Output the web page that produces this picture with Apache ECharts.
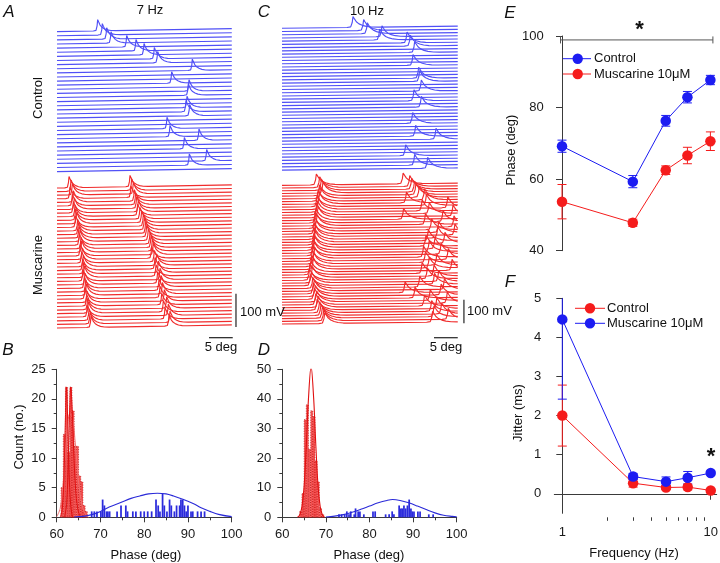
<!DOCTYPE html>
<html>
<head>
<meta charset="utf-8">
<script src="https://cdn.jsdelivr.net/npm/echarts@6.0.0/dist/echarts.min.js"></script>
<style>
html,body{margin:0;padding:0;background:#ffffff;}
#chart{width:720px;height:563px;}
</style>
</head>
<body>
<div id="chart"></div>
<script>
// ================= DATA =================
// A (7 Hz) Control: spike phase (deg) in each sweep, top sweep first ([] = no spike)
const ctrl7Spikes = [[68.56],[69.54],[70.46],[71.37],[74.67],[76.63],[78.32],[80.49],[81.19],[],
  [88.49],[],[],[84.14],[],[87.79],[87.65],[],[],[87.37],
  [87.16],[87.93],[],[],[83.16],[],[83.79],[89.89],[],[86.81],
  [],[],[91.51],[87.86],[]];
// A (7 Hz) Muscarine: first and second spike phase in each sweep
const musc7First = [62.53,62.95,63.23,62.74,63.44,63.23,63.65,63.44,63.79,63.93,
  64.14,63.93,64.35,64.49,64.63,64.84,64.70,65.05,65.19,64.91,
  65.33,65.19,65.54,65.40,65.61,65.75,65.47,65.89,65.75,66.04,
  66.18,65.89,66.32,66.25,66.46,66.60,66.39,66.74,66.95,67.16];
const musc7Second = [75.37,75.72,76.07,75.58,76.28,76.56,76.77,77.12,76.98,77.47,
  77.82,78.18,78.39,78.67,78.88,79.23,79.58,79.79,80.07,80.28,
  79.93,80.49,80.98,80.63,81.33,80.84,81.68,81.19,81.89,81.47,
  82.18,81.68,82.60,82.04,83.09,82.39,83.44,82.74,83.79,83.58];
// C (10 Hz) Control
const ctrl10Spikes = [[74.95],[77.19],[77.96],[81.05],[80.56],[86.32],[87.02],[],[87.93],[],
  [],[],[87.58],[],[],[],[88.77],[88.98],[],[],
  [89.33],[],[],[87.79],[],[89.33],[],[],[],[],
  [87.51],[],[],[],[88.14],[92.42],[],[],[],[],
  [86.04],[],[],[87.93],[90.67]];
// C (10 Hz) Muscarine
const musc10First = [67.23,67.93,68.28,68.63,67.9,68.1,67.6,67.9,67.4,67.7,67.5,
  67.3,67.6,67.2,67.0,67.4,66.9,67.2,66.8,67.1,66.9,
  67.0,66.7,66.9,66.6,66.8,66.5,66.9,66.4,66.7,66.3,
  66.6,66.1,65.9,66.4,65.8,66.2,66.0,66.5,66.8,66.6,
  67.0,66.8,67.3,67.1,67.6,67.4,67.9,68.2,68.5,68.8,69.0];
const musc10Second = [85.5,86.9,87.3,87.9,88.2,88.9,90.0,86.2,90.4,94.9,
  89.5,91.0,96.0,85.6,93.9,90.2,96.2,91.5,93.0,96.4,
  92.8,90.8,94.3,90.3,92.2,91.0,93.5,89.8,95.0,90.2,
  92.6,91.0,95.8,89.5,92.0,90.6,93.0,92.1,89.0,94.2,
  85.9,93.5,88.0,91.2,94.8,90.0,92.6,91.5,93.6,92.0,
  95.0,91.7];
// spike waveform: deg from peak, fraction of peak height
const spikeShapeDeg  = [-0.9,-0.35,-0.12,0,0.22,0.5,0.9,1.4,2.0,2.8,3.8];
const spikeShapeFrac = [0,0.05,0.45,1,0.78,0.52,0.32,0.18,0.08,0.02,0];

// B histograms: [bin start (deg), count]
const histB_ctrl = [[67.8,1],[68.4,1],[69.0,1],[69.9,1],[70.3,3],[70.7,2],[71.2,1],[71.5,1],[71.9,1],[73.6,1],
  [74.5,2],[75.6,2],[76.0,1],[77.2,1],[77.9,1],[79.0,1],[79.8,1],[80.6,1],[81.5,1],[82.5,3],
  [83.0,2],[83.4,1],[84.0,4],[84.4,2],[85.0,1],[85.6,3],[86.0,2],[86.7,1],[87.2,2],[87.9,2],
  [88.2,3],[88.6,3],[89.0,2],[89.4,1],[89.8,2],[90.5,1],[90.9,1],[92.0,1],[92.8,1],[93.6,1]];
const histB_musc = [[61.0,5],[61.5,14],[62.0,22],[62.5,11],[63.0,22],[63.5,18],[64.0,12],[64.5,12],[65.0,7],[65.5,6],[66.0,2],[66.5,1]];
const fitB_ctrl = [[64,0.05],[66,0.15],[68,0.45],[70,1.0],[72,1.75],[74.5,2.45],[77,3.2],[79,3.6],[81,3.95],[83,4.07],
  [85,3.95],[86.7,3.6],[89,3.0],[91.3,2.3],[93,1.6],[95,1.0],[97,0.5],[100,0.12]];
const fitB_musc1 = [[60.8,0],[61.3,1.5],[61.7,8],[62.0,17],[62.2,22],[62.45,18],[62.8,8],[63.2,2],[63.6,0]];
const fitB_musc2 = [[61.8,0],[62.3,2.5],[62.7,11],[63.0,19],[63.2,22],[63.5,19],[63.9,11],[64.4,4],[65.0,0.8],[65.6,0]];
const fitB_musc3 = [[60,0.1],[60.8,1.5],[61.5,6],[62.2,13],[63.0,17.5],[63.6,17],[64.3,12],[65.0,6],[65.8,2],[66.6,0.4],[67.3,0]];
// D histograms
const histD_ctrl = [[72.8,1],[73.4,1],[74.1,1],[74.6,2],[75.1,1],[75.5,2],[76.3,1],[76.6,3],[77.2,2],[77.6,2],
  [78.5,1],[80.6,2],[81.1,2],[83.5,1],[84.3,1],[85.0,2],[85.4,1],[86.6,4],[87.0,3],[87.3,3],
  [87.7,4],[88.1,3],[88.5,4],[88.9,6],[89.3,3],[89.6,2],[90.0,2],[90.9,2],[91.4,2],[93.4,1],[94.4,1]];
const histD_musc = [[64.0,2],[64.5,8],[65.0,33],[65.5,38],[66.0,23],[66.5,36],[67.0,34],[67.5,19],[68.0,12],[68.5,3],[69.0,1]];
const fitD_ctrl = [[70,0.1],[72,0.4],[74,0.9],[76,1.7],[78,2.7],[80,3.8],[82,4.9],[84,5.7],[85.3,6.0],[87,5.7],
  [89,4.9],[91,3.8],[93,2.6],[95,1.5],[97,0.7],[99,0.3],[100,0.15]];
const fitD_musc = [[63.5,0],[64,0.8],[64.5,3.5],[65,10.5],[65.5,24],[66,40],[66.6,51],[67.2,40],[67.7,24],[68.2,10.5],[68.7,3.5],[69.2,0.8],[69.7,0]];

// E: phase vs frequency
const freqHz = [1,3,5,7,10];
const phaseCtrl = [69.2,59.3,76.3,82.9,87.7];
const phaseCtrlErr = [1.7,1.7,1.5,1.6,1.3];
const phaseMusc = [53.7,47.8,62.5,66.6,70.6];
const phaseMuscErr = [4.8,1.0,1.2,2.3,2.6];
// F: jitter vs frequency
const jitterCtrl = [2.0,0.27,0.16,0.17,0.085];
const jitterCtrlErr = [0.78,0.1,0.05,0.07,0.03];
const jitterMusc = [4.46,0.44,0.31,0.41,0.53];
const jitterMuscErr = [2.04,0.08,0.12,0.16,0.05];

// tick values
const freqMajorTicks = [1,10];
const freqMinorTicks = [2,3,4,5,6,7,8,9];
const jitterTicks = [0,1,2,3,4,5];
const sigPhaseLevel = 98.9;   // level of the significance bar in E
const scaleDeg = 5, scaleMv = 100;

// ================= LAYOUT / STYLE =================
const FONT = 'Liberation Sans, Arial, Helvetica, sans-serif';
const TR_BLUE = '#5050f6', TR_RED = '#f02c2c';
const MK_BLUE = '#1c1cf2', MK_RED = '#f51c1c';
const AX = '#3a3a3a';
const TR = {
  A: {x0:60, x1:96.8, ymax:990, ctrlTop:940, ctrlStep:12.35, muscTop:471, muscStep:10.77, amp:34, stretch:1.0, slope:0.25,
      barX:92.0, barY:22, vX:97.68, vY:54},
  C: {x0:60, x1:97.0, ymax:1400, ctrlTop:1343.6, ctrlStep:13.67, muscTop:677.5, muscStep:11.54, amp:46, stretch:1.4, slope:0.25,
      barX:92.0, barY:31, vX:98.3, vY:92}
};

function shapeAt(d){
  const n = spikeShapeDeg.length;
  if (d <= spikeShapeDeg[0] || d >= spikeShapeDeg[n-1]) return 0;
  for (let i=1;i<n;i++){
    if (d <= spikeShapeDeg[i]){
      const t=(d-spikeShapeDeg[i-1])/(spikeShapeDeg[i]-spikeShapeDeg[i-1]);
      return spikeShapeFrac[i-1]+t*(spikeShapeFrac[i]-spikeShapeFrac[i-1]);
    }
  }
  return 0;
}
function buildTrace(spikes, offset, L){
  const xs = [L.x0, L.x1];
  spikes.forEach(s => spikeShapeDeg.forEach(d => {
    const x = s + d*L.stretch; if (x > L.x0 && x < L.x1) xs.push(x);
  }));
  xs.sort((a,b)=>a-b);
  return xs.map(x => {
    let y = offset + L.slope*(x - L.x0);
    spikes.forEach(s => { y += L.amp*shapeAt((x - s)/L.stretch); });
    return [x, y];
  });
}

const series = [];
function addTraces(idx, sweeps, top, step, L, color){
  sweeps.forEach((sp, i) => {
    series.push({type:'line', xAxisIndex:idx, yAxisIndex:idx, data: buildTrace(sp, top - i*step, L),
      symbol:'none', silent:true, animation:false, z:2,
      lineStyle:{color:color, width:1.15},
      areaStyle:{color:'#ffffff', opacity:1, origin:'start'}});
  });
}
addTraces(0, ctrl7Spikes, TR.A.ctrlTop, TR.A.ctrlStep, TR.A, TR_BLUE);
addTraces(0, musc7First.map((v,i)=>[v, musc7Second[i]]), TR.A.muscTop, TR.A.muscStep, TR.A, TR_RED);
addTraces(1, ctrl10Spikes, TR.C.ctrlTop, TR.C.ctrlStep, TR.C, TR_BLUE);
addTraces(1, musc10First.map((v,i)=>[v, musc10Second[i]]), TR.C.muscTop, TR.C.muscStep, TR.C, TR_RED);

// scale bars
[[0,TR.A],[1,TR.C]].forEach(([idx,L])=>{
  const st = {type:'line', xAxisIndex:idx, yAxisIndex:idx, symbol:'none', silent:true, animation:false, z:5, clip:false,
    lineStyle:{color:'#333', width:1.3}};
  series.push(Object.assign({}, st, {data:[[L.barX, L.barY],[L.barX+scaleDeg, L.barY]]}));
  series.push(Object.assign({}, st, {data:[[L.vX, L.vY],[L.vX, L.vY+scaleMv]]}));
});

// histograms
function histSeries(idx, bins, w, fill, stroke, dash){
  return {type:'custom', xAxisIndex:idx, yAxisIndex:idx, silent:true, animation:false, z:2,
    data: bins,
    renderItem:(p, api)=>{
      const x=api.value(0), c=api.value(1);
      const a=api.coord([x,0]), b=api.coord([x+w,c]);
      return {type:'rect', shape:{x:a[0], y:b[1], width:Math.max(b[0]-a[0],1), height:a[1]-b[1]},
        style:{fill:fill, stroke:stroke, lineWidth:stroke?0.6:0, lineDash:dash||null}};
    }};
}
function fitSeries(idx, pts, color, width){
  return {type:'line', xAxisIndex:idx, yAxisIndex:idx, data:pts, smooth:0.35, symbol:'none', silent:true,
    animation:false, z:4, lineStyle:{color:color, width:width||1}};
}
series.push(histSeries(2, histB_musc, 0.5, 'rgba(244,58,58,0.88)', '#b00000', [1,1.5]));
series.push(fitSeries(2, fitB_musc3, '#f07070', 1));
series.push(fitSeries(2, fitB_musc1, '#e01010', 1));
series.push(fitSeries(2, fitB_musc2, '#e01010', 1));
series.push(histSeries(2, histB_ctrl, 0.4, '#2b2bdc', null));
series.push(fitSeries(2, fitB_ctrl, '#2a2ad8', 1.1));
series.push(histSeries(3, histD_musc, 0.5, 'rgba(244,58,58,0.88)', '#b00000', [1,1.5]));
series.push(fitSeries(3, fitD_musc, '#e01010', 1.1));
series.push(histSeries(3, histD_ctrl, 0.4, '#2b2bdc', null));
series.push(fitSeries(3, fitD_ctrl, '#2a2ad8', 1.1));

// E and F
const lg = f => Math.log10(f);
function errSeries(idx, vals, errs, color){
  return {type:'custom', xAxisIndex:idx, yAxisIndex:idx, silent:true, animation:false, clip:true, z:3,
    data: freqHz.map((f,i)=>[lg(f), vals[i]-errs[i], vals[i]+errs[i]]),
    renderItem:(p, api)=>{
      const x=api.value(0);
      const lo=api.coord([x, api.value(1)]), hi=api.coord([x, api.value(2)]);
      const w=4.5, st={stroke:color, lineWidth:1};
      return {type:'group', children:[
        {type:'line', shape:{x1:lo[0],y1:lo[1],x2:hi[0],y2:hi[1]}, style:st},
        {type:'line', shape:{x1:lo[0]-w,y1:lo[1],x2:lo[0]+w,y2:lo[1]}, style:st},
        {type:'line', shape:{x1:hi[0]-w,y1:hi[1],x2:hi[0]+w,y2:hi[1]}, style:st}]};
    }};
}
function ptSeries(idx, vals, color){
  return {type:'line', xAxisIndex:idx, yAxisIndex:idx, data: freqHz.map((f,i)=>[lg(f), vals[i]]),
    symbol:'circle', symbolSize:10.5, showSymbol:true, silent:true, animation:false, z:4,
    lineStyle:{color:color, width:1}, itemStyle:{color:color}};
}
series.push(errSeries(4, phaseMusc, phaseMuscErr, MK_RED));
series.push(errSeries(4, phaseCtrl, phaseCtrlErr, MK_BLUE));
series.push(ptSeries(4, phaseMusc, MK_RED));
series.push(ptSeries(4, phaseCtrl, MK_BLUE));
series.push(errSeries(5, jitterCtrl, jitterCtrlErr, MK_RED));
series.push(errSeries(5, jitterMusc, jitterMuscErr, MK_BLUE));
series.push(ptSeries(5, jitterCtrl, MK_RED));
series.push(ptSeries(5, jitterMusc, MK_BLUE));

// axes
const axLine = {show:true, lineStyle:{color:AX, width:1}};
const axLabel = (m)=>({show:true, color:'#1a1a1a', fontSize:13, fontFamily:FONT, margin:m});
const hiddenX = (g,L)=>({type:'value', gridIndex:g, min:L.x0, max:99, show:false});
const grids = [
  {left:57, top:15, width:185.25, height:330},
  {left:282, top:15, width:185.25, height:330},
  {left:56.7, top:369.3, width:175, height:148},
  {left:282.3, top:369.3, width:174.4, height:148},
  {left:555.7, top:36, width:160.7, height:214.7},
  {left:554.3, top:298.3, width:162.4, height:215}
].map(g=>Object.assign({show:false, containLabel:false, outerBoundsMode:'none'}, g));

const xAxes = [
  hiddenX(0,TR.A), hiddenX(1,TR.C),
  {type:'value', gridIndex:2, min:60, max:100, interval:10, axisLine:axLine,
   axisTick:{show:true, inside:false, length:5, lineStyle:{color:AX}}, minorTick:{show:true, splitNumber:2, length:3, lineStyle:{color:AX}},
   axisLabel:axLabel(11), splitLine:{show:false}},
  {type:'value', gridIndex:3, min:60, max:100, interval:10, axisLine:axLine,
   axisTick:{show:true, inside:false, length:5, lineStyle:{color:AX}}, minorTick:{show:true, splitNumber:2, length:3, lineStyle:{color:AX}},
   axisLabel:axLabel(11), splitLine:{show:false}},
  {type:'value', gridIndex:4, min:-0.0425, max:1.0404, show:false},
  {type:'value', gridIndex:5, min:-0.0539, max:1.0404, position:'bottom', offset:4, axisLine:axLine,
   axisTick:{show:true, inside:false, length:6, lineStyle:{color:AX}, customValues:freqMajorTicks.map(lg)},
   axisLabel:Object.assign(axLabel(9), {customValues:freqMajorTicks.map(lg), formatter:v=>String(Math.round(Math.pow(10,v)))}),
   splitLine:{show:false}},
  {type:'value', gridIndex:5, min:-0.0539, max:1.0404, position:'bottom', offset:4, axisLine:{show:false},
   axisTick:{show:true, inside:false, length:3.5, lineStyle:{color:AX}, customValues:freqMinorTicks.map(lg)},
   axisLabel:{show:false}, splitLine:{show:false}}
];
const yAxes = [
  {type:'value', gridIndex:0, min:0, max:TR.A.ymax, show:false},
  {type:'value', gridIndex:1, min:0, max:TR.C.ymax, show:false},
  {type:'value', gridIndex:2, min:0, max:25, interval:5, axisLine:axLine,
   axisTick:{show:true, length:5, lineStyle:{color:AX}}, minorTick:{show:true, splitNumber:2, length:3, lineStyle:{color:AX}},
   axisLabel:axLabel(11), splitLine:{show:false}},
  {type:'value', gridIndex:3, min:0, max:50, interval:10, axisLine:axLine,
   axisTick:{show:true, length:5, lineStyle:{color:AX}}, minorTick:{show:true, splitNumber:2, length:3, lineStyle:{color:AX}},
   axisLabel:axLabel(11), splitLine:{show:false}},
  {type:'value', gridIndex:4, min:40, max:100, interval:20, axisLine:axLine,
   axisTick:{show:true, length:6, lineStyle:{color:AX}}, axisLabel:axLabel(12), splitLine:{show:false}},
  {type:'value', gridIndex:5, min:-0.5, max:5, axisLine:axLine,
   axisTick:{show:true, length:6, lineStyle:{color:AX}, customValues:jitterTicks},
   axisLabel:Object.assign(axLabel(13), {customValues:jitterTicks}), splitLine:{show:false}}
];

const chart = echarts.init(document.getElementById('chart'), null, {renderer:'canvas', width:720, height:563});
chart.setOption({
  animation:false,
  backgroundColor:'#ffffff',
  textStyle:{fontFamily:FONT},
  grid:grids, xAxis:xAxes, yAxis:yAxes, series:series
});

// ---------- text & annotations ----------
function txt(t, x, y, opt){
  opt = opt||{};
  return {type:'text', x:x, y:y, rotation:opt.rot||0, z:50, silent:true,
    style:{text:t, x:0, y:0, fill:opt.color||'#111', font:(opt.style||'normal')+' '+(opt.weight||'normal')+' '+(opt.size||13)+'px '+FONT,
      textAlign:opt.align||'center', textVerticalAlign:'middle', align:opt.align||'center', verticalAlign:'middle'}};
}
function ln(x1,y1,x2,y2,color,w){
  return {type:'line', z:50, silent:true, shape:{x1,y1,x2,y2}, style:{stroke:color||AX, lineWidth:w||1}};
}
function dot(cx,cy,color){ return {type:'circle', z:51, silent:true, shape:{cx,cy,r:5.2}, style:{fill:color}}; }

const s0 = chart.convertToPixel({gridIndex:4}, [lg(1), sigPhaseLevel]);
const s1 = chart.convertToPixel({gridIndex:4}, [lg(10), sigPhaseLevel]);
const g = [
  txt('A', 9, 12, {style:'italic', size:17, align:'center'}),
  txt('B', 8, 350, {style:'italic', size:17}),
  txt('C', 264, 12, {style:'italic', size:17}),
  txt('D', 264, 350, {style:'italic', size:17}),
  txt('E', 510, 13, {style:'italic', size:17}),
  txt('F', 510, 282, {style:'italic', size:17}),
  txt('7 Hz', 150, 10, {size:13}),
  txt('10 Hz', 367, 11, {size:13}),
  txt('Control', 38, 98, {rot:Math.PI/2, size:13}),
  txt('Muscarine', 38, 265, {rot:Math.PI/2, size:13}),
  txt('100 mV', 240, 312, {align:'left', size:13}),
  txt('100 mV', 467, 311, {align:'left', size:13}),
  txt('5 deg', 221, 347, {size:13}),
  txt('5 deg', 446, 347, {size:13}),
  txt('Count (no.)', 19, 437, {rot:Math.PI/2, size:13}),
  txt('Phase (deg)', 146, 555, {size:13}),
  txt('Phase (deg)', 369, 555, {size:13}),
  txt('Phase (deg)', 511, 150, {rot:Math.PI/2, size:13}),
  txt('Jitter (ms)', 518, 413, {rot:Math.PI/2, size:13}),
  txt('Frequency (Hz)', 634, 553, {size:13}),
  // E legend
  ln(563, 58.7, 591, 58.7, MK_BLUE, 1), dot(577.7, 58.7, MK_BLUE), txt('Control', 594, 58.7, {align:'left', size:13}),
  ln(563, 74, 591, 74, MK_RED, 1), dot(577.7, 74, MK_RED), txt('Muscarine 10\u03bcM', 594, 74, {align:'left', size:13}),
  // F legend
  ln(575, 308.3, 605, 308.3, MK_RED, 1), dot(590, 308.3, MK_RED), txt('Control', 607, 308.3, {align:'left', size:13}),
  ln(575, 323.3, 605, 323.3, MK_BLUE, 1), dot(590, 323.3, MK_BLUE), txt('Muscarine 10\u03bcM', 607, 323.3, {align:'left', size:13}),
  // significance
  ln(s0[0]-1.5, s0[1], s1[0]+2.5, s1[1], '#555', 1),
  ln(s0[0]-1.5, s0[1]-3.5, s0[0]-1.5, s0[1]+3.5, '#555', 1),
  ln(s1[0]+2.5, s1[1]-3.5, s1[0]+2.5, s1[1]+3.5, '#555', 1),
  txt('*', 639.5, 30, {size:22, weight:'bold'}),
  txt('*', 711, 457, {size:22, weight:'bold'})
];
chart.setOption({graphic:{elements:g}});
</script>
</body>
</html>
